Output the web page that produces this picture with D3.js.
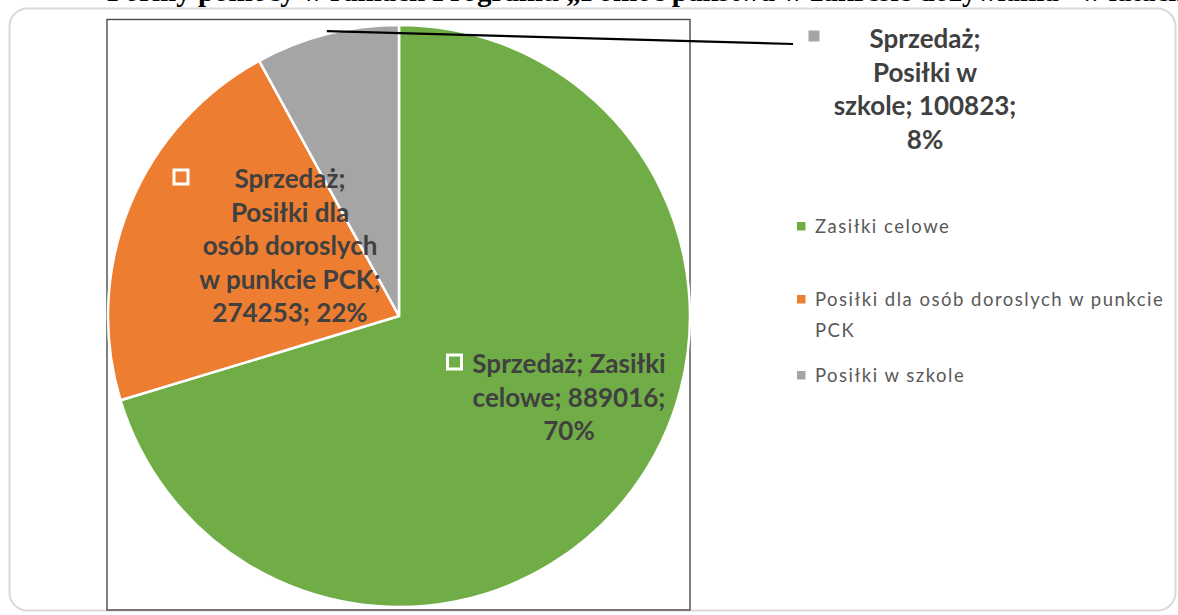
<!DOCTYPE html>
<html><head><meta charset="utf-8">
<script src="https://cdn.jsdelivr.net/npm/d3@7"></script>
<style>html,body{margin:0;padding:0;background:#fff;overflow:hidden}</style>
</head><body>
<svg id="c" width="1178" height="615"></svg>
<script>
// ---- data ----
const seriesName = "Sprzedaż";
const categories = ["Zasiłki celowe", "Posiłki dla osób doroslych w punkcie PCK", "Posiłki w szkole"];
const values = [889016, 274253, 100823];
const percents = ["70%", "22%", "8%"];
const colors = ["#70AD47", "#ED7D31", "#A5A5A5"];
// wrapped data-label lines
const labelLines = [
  ["Sprzedaż; Zasiłki", "celowe; 889016;", "70%"],
  ["Sprzedaż;", "Posiłki dla", "osób doroslych", "w punkcie PCK;", "274253; 22%"],
  ["Sprzedaż;", "Posiłki w", "szkole; 100823;", "8%"]
];
const titleText = "Formy pomocy w ramach Programu „Pomoc państwa w zakresie dożywiania” w latach 2014–2016";

// ---- layout ----
const svg = d3.select("#c");

// title (clipped at top)
const title = svg.append("text")
  .attr("y", 1)
  .attr("font-family", "Liberation Serif, Times New Roman, serif")
  .attr("font-weight", "bold").attr("font-size", 29).attr("fill", "#000")
  .text(titleText);
const pre = title.node().getSubStringLength(0, titleText.indexOf("pomocy"));
title.attr("x", 198 - pre);

// outer chart border
svg.append("rect").attr("x", 9.5).attr("y", 8.5).attr("width", 1166).attr("height", 602)
  .attr("rx", 18).attr("fill", "none").attr("stroke", "#d9d9d9").attr("stroke-width", 2);

// plot area frame
svg.append("rect").attr("x", 107).attr("y", 19.5).attr("width", 583).attr("height", 590.5)
  .attr("fill", "none").attr("stroke", "#4a4a4a").attr("stroke-width", 1.4);

// pie
const cx = 399, cy = 316, r = 291;
const pie = d3.pie().sort(null).value(d => d)(values);
const arc = d3.arc().innerRadius(0).outerRadius(r);
const g = svg.append("g").attr("transform", `translate(${cx},${cy})`);
g.selectAll("path").data(pie).join("path")
  .attr("d", arc).attr("fill", (d, i) => colors[i])
  .attr("stroke", "#fff").attr("stroke-width", 2.5).attr("stroke-linejoin", "round");

// leader line for the small slice
const gs = pie[2];
const mid = (gs.startAngle + gs.endAngle) / 2;
const lx0 = cx + r * Math.sin(mid), ly0 = cy - r * Math.cos(mid) - 3;
svg.append("line").attr("x1", lx0).attr("y1", ly0).attr("x2", 793).attr("y2", 44)
  .attr("stroke", "#000").attr("stroke-width", 2.2);

// data labels
const labelPos = [
  {tx: 569, ty: 373, mx: 454.5, my: 362},
  {tx: 290, ty: 188, mx: 181, my: 177},
  {tx: 925, ty: 48, mx: 814, my: 36}
];
const lh = 33.6;
labelLines.forEach((lines, i) => {
  const p = labelPos[i];
  svg.append("rect").attr("x", p.mx - 7).attr("y", p.my - 7).attr("width", 14).attr("height", 14)
    .attr("fill", colors[i]).attr("stroke", "#fff").attr("stroke-width", 3);
  const t = svg.append("text").attr("text-anchor", "middle")
    .attr("font-family", "Lato, sans-serif").attr("font-weight", "bold")
    .attr("font-size", 26).attr("fill", "#404040");
  lines.forEach((ln, j) => t.append("tspan").attr("x", p.tx).attr("y", p.ty + j * lh).text(ln));
});

// legend
const legY = [233, 306, 382];
const leg = svg.append("g");
categories.forEach((c, i) => {
  leg.append("rect").attr("x", 797).attr("y", legY[i] - 11).attr("width", 8.5).attr("height", 8.5)
    .attr("fill", colors[i]);
  const t = leg.append("text").attr("font-family", "Lato, sans-serif").attr("font-size", 18.5)
    .attr("letter-spacing", 1.5).attr("fill", "#595959");
  const words = c.split(" ");
  let line = [], lineNo = 0;
  let ts = t.append("tspan").attr("x", 815).attr("y", legY[i]);
  words.forEach(w => {
    line.push(w);
    ts.text(line.join(" "));
    if (ts.node().getComputedTextLength() > 356 && line.length > 1) {
      line.pop(); ts.text(line.join(" "));
      line = [w]; lineNo++;
      ts = t.append("tspan").attr("x", 815).attr("y", legY[i] + lineNo * 31).text(w);
    }
  });
});
</script>
</body></html>
